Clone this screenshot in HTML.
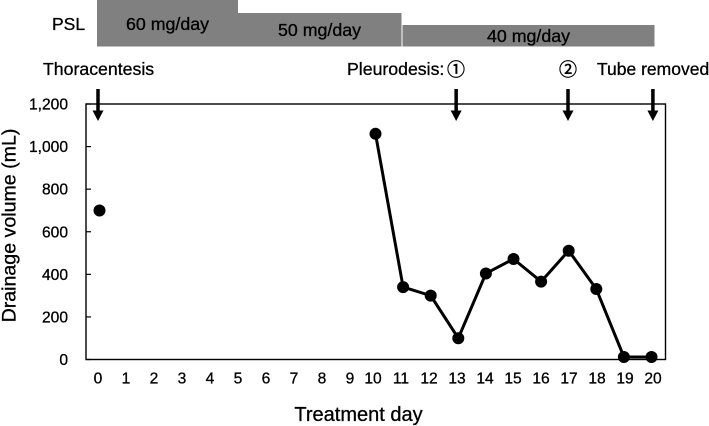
<!DOCTYPE html>
<html>
<head>
<meta charset="utf-8">
<style>
html,body{margin:0;padding:0;background:#fff;}
body{width:709px;height:426px;overflow:hidden;}
svg{display:block;}
text{font-family:"Liberation Sans","Noto Sans CJK JP",sans-serif;fill:#000;stroke:#000;stroke-width:0.3px;}
</style>
</head>
<body>
<svg id="chart" width="709" height="426" viewBox="0 0 709 426" xmlns="http://www.w3.org/2000/svg">
  <g>
    <rect x="97" y="0" width="141" height="46.5" fill="#808080"/>
    <rect x="238" y="13" width="163.5" height="33.5" fill="#808080"/>
    <rect x="402.5" y="25" width="252" height="21.5" fill="#808080"/>
    <text x="52" y="30" font-size="17.5">PSL</text>
    <text x="126" y="30" font-size="17.8">60 mg/day</text>
    <text x="278" y="36" font-size="17.8">50 mg/day</text>
    <text x="487" y="42" font-size="17.8">40 mg/day</text>
  </g>
  <g>
    <text x="43" y="75" font-size="17.7">Thoracentesis</text>
    <text x="347" y="75" font-size="17.7">Pleurodesis:</text>
    <text x="447" y="76" font-size="18" style="font-family:'Noto Sans CJK JP',sans-serif;stroke-width:0.5px">①</text>
    <text x="559" y="76" font-size="18" style="font-family:'Noto Sans CJK JP',sans-serif;stroke-width:0.5px">②</text>
    <text x="597" y="75" font-size="17.5">Tube removed</text>
  </g>
  <rect x="86" y="104" width="579.5" height="255.5" fill="none" stroke="#000" stroke-width="1.4"/>
  <g id="y-axis"></g>
  <g id="x-axis"></g>
  <g id="series"></g>
  <g id="arrows"></g>
  <text transform="translate(15.5,225.5) rotate(-90)" text-anchor="middle" font-size="19.6">Drainage volume (mL)</text>
  <text x="358.5" y="421" text-anchor="middle" font-size="20">Treatment day</text>
</svg>
<script>
var days = [0,1,2,3,4,5,6,7,8,9,10,11,12,13,14,15,16,17,18,19,20];
var drainage = [700,null,null,null,null,null,null,null,null,null,1060,340,300,100,404,472,366,511,331,12,12];
var yTicks = [0,200,400,600,800,1000,1200];
var yTickLabels = ["0","200","400","600","800","1,000","1,200"];
var eventDays = [0,13,17,20];

var NS = 'http://www.w3.org/2000/svg';
function xScale(d){ return 99.5 + d * 27.6; }
function xLabelScale(d){ return (d < 10 ? 98 : 93) + d * 28; }
function arrowScale(d){ return d < 17 ? 98 + d * 27.55 : 568 + (d - 17) * 28.3; }
function yScale(v){ return 359.5 - v * (255.5 / 1200); }
function make(tag, parent, attrs){
  var el = document.createElementNS(NS, tag);
  for (var k in attrs) el.setAttribute(k, attrs[k]);
  parent.appendChild(el);
  return el;
}

var yAxis = document.getElementById('y-axis');
yTicks.forEach(function(v, i){
  var y = yScale(v);
  var tick = make('line', yAxis, {x1:86, x2:91, y1:y, y2:y, stroke:'#000', 'stroke-width':1.2});
  
  
  var label = make('text', yAxis, {x:68, y:y + 5.5, 'text-anchor':'end', 'font-size':15.6});
  
  
  label.textContent = yTickLabels[i];
});

var xAxis = document.getElementById('x-axis');
days.forEach(function(d){
  var label = make('text', xAxis, {x:xLabelScale(d), y:383.5, 'text-anchor':'middle', 'font-size':15.6});
  
  
  label.textContent = d;
});

var series = document.getElementById('series');
var pathData = '';
var penDown = false;
days.forEach(function(d, i){
  var v = drainage[i];
  if (v === null) { penDown = false; return; }
  pathData += (penDown ? 'L' : 'M') + xScale(d) + ' ' + yScale(v);
  penDown = true;
});
var line = make('path', series, {d:pathData, fill:'none', stroke:'#000', 'stroke-width':3, 'stroke-linejoin':'round'});


days.forEach(function(d, i){
  var v = drainage[i];
  if (v === null) return;
  var point = make('circle', series, {cx:xScale(d), cy:yScale(v), r:6, fill:'#000'});
  
  
});

var arrows = document.getElementById('arrows');
eventDays.forEach(function(d){
  var x = arrowScale(d);
  var shaft = make('line', arrows, {x1:x, x2:x, y1:89, y2:112, stroke:'#000', 'stroke-width':3.5});
  
  
  var head = make('polygon', arrows, {points:(x-5.5)+',110.5 '+(x+5.5)+',110.5 '+x+',121', fill:'#000'});
  
  
});
</script>
</body>
</html>
